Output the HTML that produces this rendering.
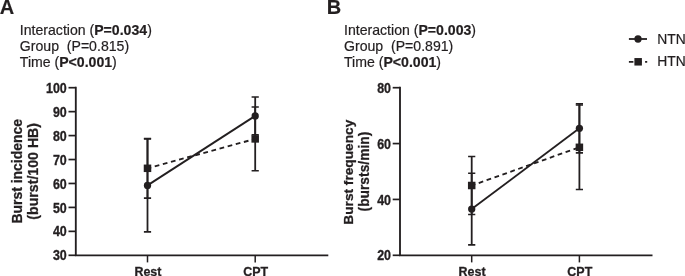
<!DOCTYPE html>
<html lang="en">
<head>
<meta charset="utf-8">
<title>Figure</title>
<style>
html,body{margin:0;padding:0;background:#fff;}
body{width:685px;height:276px;overflow:hidden;}
svg{display:block;}
text{font-family:"Liberation Sans",Arial,Helvetica,sans-serif;fill:#231f20;stroke:#231f20;stroke-width:0.2px;}
.pl{font-size:20px;font-weight:bold;stroke-width:0.15px;}
.hd{font-size:14.1px;}
.b{font-weight:bold;}
.tk{font-size:12.45px;font-weight:bold;stroke-width:0.3px;}
.yl{font-size:13.95px;font-weight:bold;stroke-width:0.28px;}
.y2{font-size:14.15px;}
.lg{font-size:13.85px;}
</style>
</head>
<body>
<svg width="685" height="276" viewBox="0 0 685 276">
<rect width="685" height="276" fill="#fff"/>
<text x="-0.3" y="13.8" class="pl">A</text>
<text x="326.7" y="13.8" class="pl">B</text>
<path d="M75.80 86.85V255.30H328.30" fill="none" stroke="#231f20" stroke-width="1.85" stroke-linejoin="miter"/>
<path d="M68.50 87.70H75.80" stroke="#231f20" stroke-width="1.7"/>
<text transform="translate(66.80 92.80) scale(1 1.11)" text-anchor="end" class="tk">100</text>
<path d="M68.50 111.64H75.80" stroke="#231f20" stroke-width="1.7"/>
<text transform="translate(66.80 116.74) scale(1 1.11)" text-anchor="end" class="tk">90</text>
<path d="M68.50 135.59H75.80" stroke="#231f20" stroke-width="1.7"/>
<text transform="translate(66.80 140.69) scale(1 1.11)" text-anchor="end" class="tk">80</text>
<path d="M68.50 159.53H75.80" stroke="#231f20" stroke-width="1.7"/>
<text transform="translate(66.80 164.63) scale(1 1.11)" text-anchor="end" class="tk">70</text>
<path d="M68.50 183.47H75.80" stroke="#231f20" stroke-width="1.7"/>
<text transform="translate(66.80 188.57) scale(1 1.11)" text-anchor="end" class="tk">60</text>
<path d="M68.50 207.41H75.80" stroke="#231f20" stroke-width="1.7"/>
<text transform="translate(66.80 212.51) scale(1 1.11)" text-anchor="end" class="tk">50</text>
<path d="M68.50 231.36H75.80" stroke="#231f20" stroke-width="1.7"/>
<text transform="translate(66.80 236.46) scale(1 1.11)" text-anchor="end" class="tk">40</text>
<path d="M68.50 255.30H75.80" stroke="#231f20" stroke-width="1.7"/>
<text transform="translate(66.80 260.40) scale(1 1.11)" text-anchor="end" class="tk">30</text>
<path d="M147.50 255.30V262.40" stroke="#231f20" stroke-width="1.5"/>
<text x="147.90" y="275.5" text-anchor="middle" class="tk">Rest</text>
<path d="M255.20 255.30V262.40" stroke="#231f20" stroke-width="1.5"/>
<text x="255.60" y="275.5" text-anchor="middle" class="tk">CPT</text>
<text transform="translate(21.90 171.3) rotate(-90)" text-anchor="middle" class="yl" style="font-size:13.95px">Burst incidence</text>
<text transform="translate(37.90 171.3) rotate(-90)" text-anchor="middle" class="yl" style="font-size:14.15px">(burst/100 HB)</text>
<text x="19.80" y="35.30" class="hd" xml:space="preserve">Interaction (<tspan class="b">P=0.034</tspan>)</text>
<text x="19.80" y="50.50" class="hd" xml:space="preserve">Group  (P=0.815)</text>
<text x="19.80" y="66.60" class="hd" xml:space="preserve">Time (<tspan class="b">P&lt;0.001</tspan>)</text>
<path d="M147.50 138.90V231.90" fill="none" stroke="#231f20" stroke-width="1.8"/><path d="M143.90 138.90h7.2M143.90 231.90h7.2" fill="none" stroke="#231f20" stroke-width="1.6"/>
<path d="M255.20 97.05V134.75" fill="none" stroke="#231f20" stroke-width="1.8"/><path d="M251.60 97.05h7.2M251.60 134.75h7.2" fill="none" stroke="#231f20" stroke-width="1.6"/>
<path d="M147.50 138.50V198.10" fill="none" stroke="#231f20" stroke-width="1.8"/><path d="M143.90 138.50h7.2M143.90 198.10h7.2" fill="none" stroke="#231f20" stroke-width="1.6"/>
<path d="M255.20 107.00V170.80" fill="none" stroke="#231f20" stroke-width="1.8"/><path d="M251.60 107.00h7.2M251.60 170.80h7.2" fill="none" stroke="#231f20" stroke-width="1.6"/>
<path d="M147.50 185.40L255.20 115.90" stroke="#231f20" stroke-width="1.85"/>
<path d="M147.50 168.30L255.20 138.90" stroke="#231f20" stroke-width="1.85" stroke-dasharray="4.75 3.65" stroke-dashoffset="-7.5"/>
<circle cx="147.50" cy="185.40" r="3.65" fill="#231f20"/>
<circle cx="255.20" cy="115.90" r="3.65" fill="#231f20"/>
<rect x="143.75" y="164.55" width="7.5" height="7.5" fill="#231f20"/>
<rect x="251.45" y="135.15" width="7.5" height="7.5" fill="#231f20"/>
<path d="M400.00 86.85V255.30H652.50" fill="none" stroke="#231f20" stroke-width="1.85" stroke-linejoin="miter"/>
<path d="M392.70 87.70H400.00" stroke="#231f20" stroke-width="1.7"/>
<text transform="translate(391.00 92.80) scale(1 1.11)" text-anchor="end" class="tk">80</text>
<path d="M392.70 143.57H400.00" stroke="#231f20" stroke-width="1.7"/>
<text transform="translate(391.00 148.67) scale(1 1.11)" text-anchor="end" class="tk">60</text>
<path d="M392.70 199.43H400.00" stroke="#231f20" stroke-width="1.7"/>
<text transform="translate(391.00 204.53) scale(1 1.11)" text-anchor="end" class="tk">40</text>
<path d="M392.70 255.30H400.00" stroke="#231f20" stroke-width="1.7"/>
<text transform="translate(391.00 260.40) scale(1 1.11)" text-anchor="end" class="tk">20</text>
<path d="M471.70 255.30V262.40" stroke="#231f20" stroke-width="1.5"/>
<text x="472.10" y="275.5" text-anchor="middle" class="tk">Rest</text>
<path d="M579.40 255.30V262.40" stroke="#231f20" stroke-width="1.5"/>
<text x="579.80" y="275.5" text-anchor="middle" class="tk">CPT</text>
<text transform="translate(352.70 172.2) rotate(-90)" text-anchor="middle" class="yl" style="font-size:13.7px">Burst frequency</text>
<text transform="translate(368.90 171.6) rotate(-90)" text-anchor="middle" class="yl" style="font-size:13.8px">(bursts/min)</text>
<text x="344.00" y="35.30" class="hd" xml:space="preserve">Interaction (<tspan class="b">P=0.003</tspan>)</text>
<text x="344.00" y="50.50" class="hd" xml:space="preserve">Group  (P=0.891)</text>
<text x="344.00" y="66.60" class="hd" xml:space="preserve">Time (<tspan class="b">P&lt;0.001</tspan>)</text>
<path d="M471.70 173.30V244.90" fill="none" stroke="#231f20" stroke-width="1.8"/><path d="M468.10 173.30h7.2M468.10 244.90h7.2" fill="none" stroke="#231f20" stroke-width="1.6"/>
<path d="M579.40 103.75V152.85" fill="none" stroke="#231f20" stroke-width="1.8"/><path d="M575.80 103.75h7.2M575.80 152.85h7.2" fill="none" stroke="#231f20" stroke-width="1.6"/>
<path d="M471.70 156.50V214.50" fill="none" stroke="#231f20" stroke-width="1.8"/><path d="M468.10 156.50h7.2M468.10 214.50h7.2" fill="none" stroke="#231f20" stroke-width="1.6"/>
<path d="M579.40 105.05V189.55" fill="none" stroke="#231f20" stroke-width="1.8"/><path d="M575.80 105.05h7.2M575.80 189.55h7.2" fill="none" stroke="#231f20" stroke-width="1.6"/>
<path d="M471.70 209.10L579.40 128.30" stroke="#231f20" stroke-width="1.85"/>
<path d="M471.70 185.50L579.40 147.30" stroke="#231f20" stroke-width="1.85" stroke-dasharray="4.75 3.63" stroke-dashoffset="-7.45"/>
<circle cx="471.70" cy="209.10" r="3.65" fill="#231f20"/>
<circle cx="579.40" cy="128.30" r="3.65" fill="#231f20"/>
<rect x="467.95" y="181.75" width="7.5" height="7.5" fill="#231f20"/>
<rect x="575.65" y="143.55" width="7.5" height="7.5" fill="#231f20"/>

<path d="M628.9 39H647" stroke="#231f20" stroke-width="1.8"/>
<circle cx="638" cy="39" r="3.65" fill="#231f20"/>
<path d="M628.9 61.8H647.2" stroke="#231f20" stroke-width="1.8" stroke-dasharray="4.5 3.6"/>
<rect x="634.4" y="58.05" width="7.5" height="7.5" fill="#231f20"/>
<text x="657.2" y="43.8" class="lg">NTN</text>
<text x="657.2" y="66.1" class="lg">HTN</text>

</svg>
</body>
</html>
